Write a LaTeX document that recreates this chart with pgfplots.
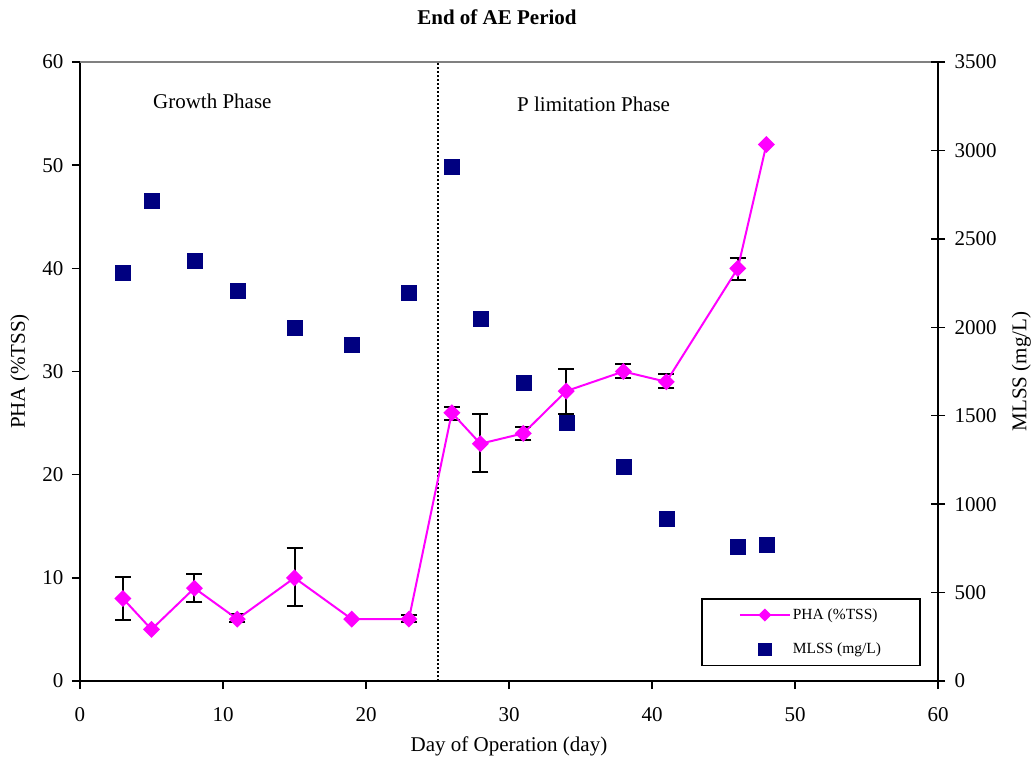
\documentclass[border=0pt]{standalone}
\usepackage{fontspec}
\setmainfont{Liberation Serif}
\usepackage{pgfplots}
\pgfplotsset{compat=1.18}
\definecolor{pham}{HTML}{FF00FF}
\definecolor{mlss}{HTML}{000080}
\pgfplotsset{
  longleg/.style={legend image code/.code={\draw[mark repeat=2,mark phase=2,##1] plot coordinates {(0pt,0pt)(25pt,0pt)(50pt,0pt)};}},
  mlssleg/.style={legend image code/.code={\draw[##1, mark size=6pt] plot coordinates {(25pt,0pt)};}},
}
\pgfplotstableread{
x y
3 8
5 5
8 9
11 6
15 10
19 6
23 6
26 26
28 23
31 24
34 28.1
38 30
41 29
46 40
48 52
}\phatab
\pgfplotstableread{
x y e
3 8 2.1
8 9.04 1.35
11 6.1 0.37
15 10.1 2.83
23 6.05 0.35
26 25.95 0.65
28 23.1 2.8
31 24.0 0.65
34 28.05 2.15
38 30.05 0.7
41 29.1 0.7
46 39.95 1.05
}\errtab
\pgfplotstableread{
x y
3 2308
5 2713
8 2374
11 2206
15 1997
19 1899
23 2195
26 2907
28 2046
31 1686
34 1462
38 1211
41 917
46 759
48 770
}\mlsstab
\begin{document}
\begin{tikzpicture}
\pgfplotsset{
  every axis/.append style={
    scale only axis, width=858pt, height=619pt, xmin=0, xmax=60,
    /pgf/number format/assume math mode=true,
    /pgf/number format/1000 sep={},
    scaled ticks=false,
    tick label style={font=\fontsize{21}{25}\selectfont},
    label style={font=\fontsize{21}{25}\selectfont},
    major tick length=8pt,
    tick style={black, line width=1.4pt},
    clip=false,
  }
}
\begin{axis}[
  axis x line=bottom, axis y line=left,
  x axis line style={-}, y axis line style={-},
  axis line style={line width=1.5pt, black},
  ymin=0, ymax=60, xtick={0,10,...,60}, ytick={0,10,...,60},
  tick align=outside,
  xticklabel style={yshift=-15pt},
  yticklabel style={xshift=-5pt},
  xlabel={Day of Operation (day)}, ylabel={PHA (\%TSS)},
  xlabel style={at={(axis description cs:0.5,-0.105)}, anchor=center},
  ylabel style={at={(axis description cs:-0.07,0.5)}, anchor=center},
]
\draw[gray, line width=1.5pt] (rel axis cs:0,1) -- (rel axis cs:1,1);
\draw[black, line width=2pt, dash pattern=on 2pt off 2pt] (axis cs:25,0) -- (axis cs:25,60);
\node[anchor=base west, inner sep=0pt, font=\fontsize{21}{25}\selectfont] at (axis cs:5.1,55.5) {Growth Phase};
\node[anchor=base west, inner sep=0pt, font=\fontsize{21}{25}\selectfont] at (axis cs:30.56,55.2) {P limitation Phase};
\node[anchor=base, font=\bfseries\fontsize{21}{25}\selectfont] at (rel axis cs:0.486,1.060) {End of AE Period};
\addplot[black, line width=2pt, draw=none, mark=none, forget plot,
  error bars/.cd, y dir=both, y explicit,
  error bar style={line width=2pt, draw=black, solid},
  error mark options={rotate=90, black, line width=2pt, mark size=8pt}]
  table[x=x, y=y, y error=e] {\errtab};
\addplot[pham, line width=2pt, mark=square*, mark size=5pt,
  mark options={rotate=45, solid, fill=pham}] table[x=x, y=y] {\phatab};
\end{axis}
\begin{axis}[
  axis x line=none, axis y line*=right,
  y axis line style={-},
  axis line style={line width=1.5pt, black},
  ymin=0, ymax=3500, ytick={0,500,...,3500},
  tick align=center, major tick length=14pt,
  yticklabel style={xshift=6pt},
  ylabel={MLSS (mg/L)},
  ylabel style={at={(axis description cs:1.097,0.5)}, anchor=center},
  legend style={at={(0.980,0.024)}, anchor=south east, draw=black, line width=1.5pt,
    font=\fontsize{15.5}{18}\selectfont, inner xsep=37pt, inner ysep=8pt,
    row sep=18pt, cells={anchor=west}},
]
\addlegendimage{longleg, pham, line width=2pt, mark=square*, mark size=3.6pt, mark options={rotate=45, solid, fill=pham}}
\addlegendentry{PHA (\%TSS)}
\addplot[mlss, only marks, mark=square*, mark size=7.5pt, mark options={fill=mlss}, mlssleg]
  table[x=x, y=y] {\mlsstab};
\addlegendentry{MLSS (mg/L)}
\end{axis}
\pgfresetboundingbox
\path (-80pt,-81pt) rectangle (952pt,681pt);
\end{tikzpicture}
\end{document}
